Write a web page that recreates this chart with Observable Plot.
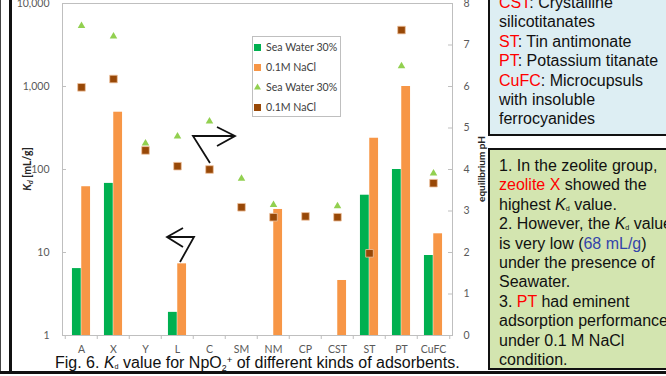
<!DOCTYPE html>
<html><head><meta charset="utf-8">
<script src="https://cdn.jsdelivr.net/npm/d3@7"></script>
<script src="https://cdn.jsdelivr.net/npm/@observablehq/plot@0.6"></script>
<style>
body{margin:0;width:666px;height:376px;overflow:hidden;background:#fff;position:relative;font-family:"Liberation Sans",Arial,sans-serif;}
#chart{position:absolute;left:0;top:0;}
#legend{position:absolute;left:252px;top:36px;width:89px;height:81px;box-sizing:border-box;border:1px solid #bfbfbf;background:#fff;font-family:Lato,sans-serif;font-size:10.6px;color:#404040;}
#legend .row{height:20px;line-height:20px;white-space:nowrap;position:relative;padding-left:13px;}
#legend .mk{position:absolute;left:1px;top:7px;width:7px;height:7px;}
#legend svg.mk{top:6px;}
.box{position:absolute;left:488px;width:200px;box-sizing:border-box;border:2px solid #111;font-size:16px;color:#111;padding-left:9px;white-space:nowrap;}
.box div{height:19.4px;line-height:19.4px;}
#blue{top:-16px;height:152px;background:#ddeef3;padding-top:7px;}
#green{top:148px;height:222px;background:#d3e5b0;padding-top:6px;}
.r{color:#ff0000;}
.b{color:#3344aa;}
.kd i{font-style:italic;}
.kd sub{font-size:0.45em;vertical-align:baseline;position:relative;top:0.1em;line-height:0;}
#caption{position:absolute;left:55px;top:355px;font-size:16px;line-height:16px;color:#111;white-space:nowrap;}
#caption .sb{font-size:0.55em;position:relative;top:0.3em;line-height:0;}
#caption .sp{font-size:0.6em;position:relative;top:-0.55em;line-height:0;}
#lineL{position:absolute;left:9px;top:0;width:3px;height:374px;background:#111;}
#lineL2{position:absolute;left:0;top:0;width:1px;height:374px;background:#444;}
#lineB{position:absolute;left:0;top:371px;width:666px;height:3px;background:#111;}
#arrows{position:absolute;left:0;top:0;pointer-events:none;}
</style></head><body>
<div id="chart"></div>
<div id="legend">
  <div class="row"><span class="mk" style="background:#00b050"></span>Sea Water 30%</div>
  <div class="row"><span class="mk" style="background:#f79646"></span>0.1M NaCl</div>
  <div class="row"><svg class="mk" width="7" height="7" viewBox="0 0 7 7"><polygon points="3.5,0.5 7,6.5 0,6.5" fill="#92d050"/></svg>Sea Water 30%</div>
  <div class="row"><span class="mk" style="background:#984807"></span>0.1M NaCl</div>
</div>
<svg id="arrows" width="666" height="376">
  <g fill="none" stroke="#111" stroke-width="1.8" stroke-linejoin="miter">
    <polyline points="210,163 193,136 235,136"/>
    <polyline points="217,127 235,136 217,146"/>
    <polyline points="180,262 194,237 167,237"/>
    <polyline points="183,228 167,237 183,247"/>
  </g>
</svg>
<div id="blue" class="box">
  <div><span class="r">CST</span>: Crystalline</div>
  <div>silicotitanates</div>
  <div><span class="r">ST</span>: Tin antimonate</div>
  <div><span class="r">PT</span>: Potassium titanate</div>
  <div><span class="r">CuFC</span>: Microcupsuls</div>
  <div>with insoluble</div>
  <div>ferrocyanides</div>
</div>
<div id="green" class="box">
  <div>1. In the zeolite group,</div>
  <div><span class="r">zeolite X</span> showed the</div>
  <div>highest <span class="kd"><i>K</i><sub>d</sub></span> value.</div>
  <div>2. However, the <span class="kd"><i>K</i><sub>d</sub></span> value</div>
  <div>is very low (<span class="b">68 mL/g</span>)</div>
  <div>under the presence of</div>
  <div>Seawater.</div>
  <div>3. <span class="r">PT</span> had eminent</div>
  <div>adsorption performance</div>
  <div>under 0.1 M NaCl</div>
  <div>condition.</div>
</div>
<div id="caption">Fig. 6. <span class="kd"><i>K</i><sub>d</sub></span> value for NpO<span class="sb">2</span><span class="sp">+</span> of different kinds of adsorbents.</div>
<div id="lineL2"></div>
<div id="lineL"></div>
<div id="lineB"></div>
<script>
const categories = ["A","X","Y","L","C","SM","NM","CP","CST","ST","PT","CuFC"];
const kdSeaWater = [6.4, 68, null, 1.9, null, null, null, null, null, 49, 100, 9.2];
const kdNaCl = [62, 490, null, 7.3, null, null, 33, null, 4.6, 238, 1000, 16.8];
const phSeaWater = [7.46, 7.21, 4.63, 4.80, 5.16, 3.78, 3.15, null, 3.12, null, 6.49, 3.91];
const phNaCl = [5.98, 6.18, 4.46, 4.08, 4.00, 3.09, 2.85, 2.87, 2.85, 1.98, 7.36, 3.67];
const kdTicks = [1, 10, 100, 1000, 10000];
const phTicks = [0, 1, 2, 3, 4, 5, 6, 7, 8];

const seaBars = categories.map((c, i) => ({cat: c, kd: kdSeaWater[i]})).filter(d => d.kd != null);
const naclBars = categories.map((c, i) => ({cat: c, kd: kdNaCl[i]})).filter(d => d.kd != null);
const seaPts = categories.map((c, i) => ({cat: c, ph: phSeaWater[i]})).filter(d => d.ph != null);
const naclPts = categories.map((c, i) => ({cat: c, ph: phNaCl[i]})).filter(d => d.ph != null);
// pH 0–8 shares the log Kd scale (1–10,000): pH p ↔ 10^(p/2)
const phToKd = p => Math.pow(10, p / 2);

const W = 666, H = 376, mL = 62, mR = 214, mT = 3, mB = 41;
const plotW = W - mL - mR, plotH = H - mT - mB;
const bw = plotW / categories.length;

const chart = Plot.plot({
  width: W, height: H,
  marginLeft: mL, marginRight: mR, marginTop: mT, marginBottom: mB,
  style: {fontFamily: "Lato, sans-serif", fontSize: "10.5px", color: "#595959", background: "transparent"},
  x: {type: "band", domain: categories, padding: 0, label: null},
  y: {type: "log", domain: [1, 10000], label: null},
  marks: [
    Plot.frame({stroke: "#bfbfbf"}),
    // category separator ticks below the baseline
    Plot.ruleX(categories, {x: d => d, dx: -bw / 2, stroke: "#bfbfbf", insetTop: plotH, insetBottom: -4}),
    Plot.ruleX(categories.slice(-1), {x: d => d, dx: bw / 2, stroke: "#bfbfbf", insetTop: plotH, insetBottom: -4}),
    // inner ticks on both value axes
    Plot.ruleY(kdTicks, {y: d => d, stroke: "#bfbfbf", insetRight: plotW - 4}),
    Plot.ruleY(phTicks, {y: d => phToKd(d), stroke: "#bfbfbf", insetLeft: plotW - 4}),
    Plot.barY(seaBars, {x: "cat", y1: 1, y2: "kd", fill: "#00b050", insetLeft: bw / 2 - 9.3, insetRight: bw / 2}),
    Plot.barY(naclBars, {x: "cat", y1: 1, y2: "kd", fill: "#f79646", insetLeft: bw / 2, insetRight: bw / 2 - 9.3}),
    Plot.axisY({anchor: "left", ticks: kdTicks, tickFormat: d3.format(","), tickSize: 0, tickPadding: 13, label: null}),
    Plot.text(phTicks, {y: d => phToKd(d), text: d => String(d), frameAnchor: "right", dx: 11, textAnchor: "start", fill: "#595959"}),
    Plot.axisX({tickSize: 0, tickPadding: 10, label: null}),
    Plot.dot(seaPts, {x: "cat", y: d => phToKd(d.ph), symbol: "triangle", r: 2.8, fill: "#92d050"}),
    Plot.dot(naclPts, {x: "cat", y: d => phToKd(d.ph), symbol: "square", r: 4.3, fill: "#984807", stroke: "#efc3a0", strokeWidth: 0.8})
  ]
});
document.getElementById("chart").appendChild(chart);

const svg = d3.select(chart);
const lab = svg.append("text")
  .attr("transform", "translate(31,169) rotate(-90)")
  .attr("text-anchor", "middle").attr("font-weight", "bold")
  .attr("font-size", 10.5).attr("fill", "#262626").attr("font-family", "Lato, sans-serif");
lab.append("tspan").attr("font-style", "italic").text("K");
lab.append("tspan").attr("font-style", "italic").attr("font-size", 7).attr("dy", 2).text("d");
lab.append("tspan").attr("dy", -2).text(" [mL/g]");
svg.append("text")
  .attr("transform", "translate(485,169) rotate(-90)")
  .attr("text-anchor", "middle").attr("font-weight", "bold")
  .attr("font-size", 10).attr("fill", "#262626").attr("font-family", "Lato, sans-serif")
  .text("equilibrium pH");
</script>
</body></html>
